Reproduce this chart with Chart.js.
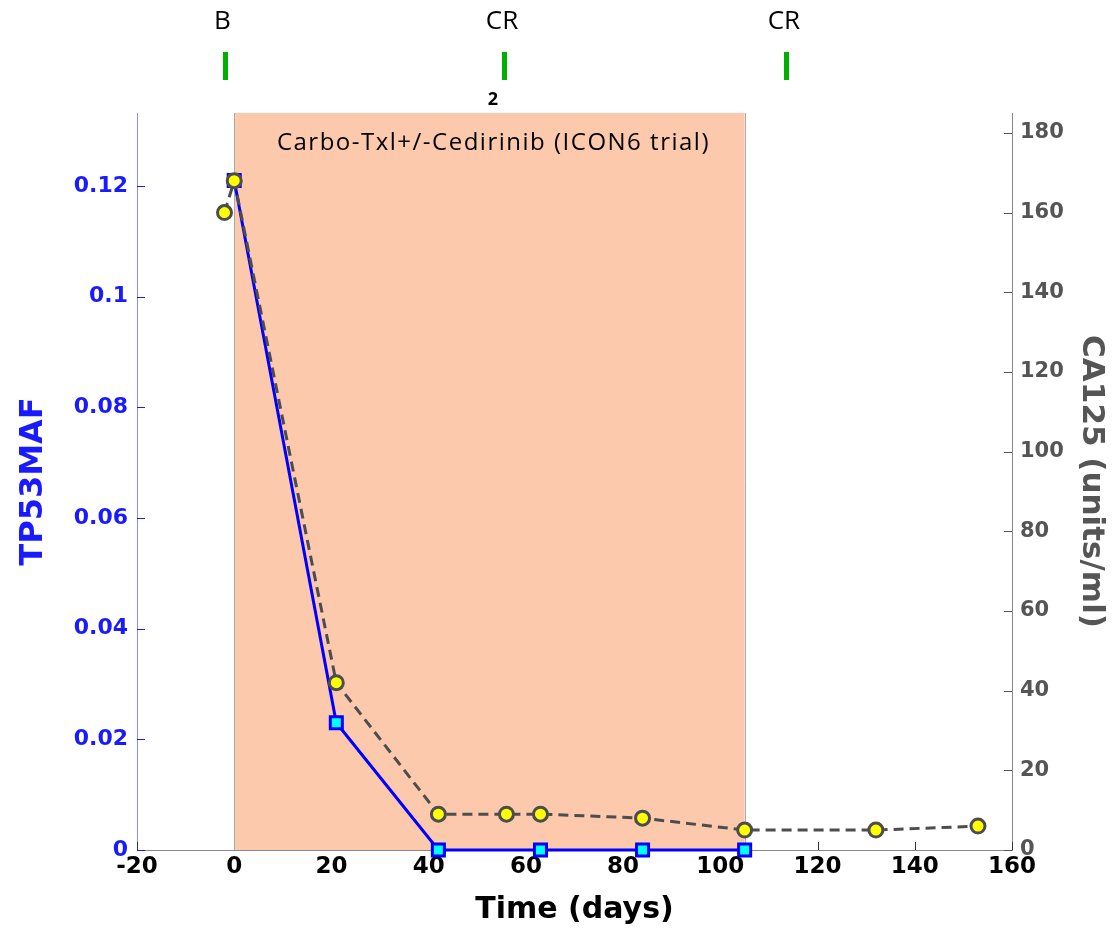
<!DOCTYPE html>
<html>
<head>
<meta charset="utf-8">
<script src="https://cdn.jsdelivr.net/npm/chart.js@4/dist/chart.umd.min.js"></script>
<style>
  html, body { margin: 0; padding: 0; background: #fff; }
  canvas { display: block; }
</style>
</head>
<body>
<canvas id="chart" width="1118" height="937"></canvas>
<script>
// Datos
const tp53Days = [0, 21, 42, 63, 84, 105];
const tp53Maf = [0.121, 0.023, 0, 0, 0, 0];

const ca125Days = [-2, 0, 21, 42, 56, 63, 84, 105, 132, 153];
const ca125Values = [160, 168, 42, 9, 9, 9, 8, 5, 5, 6];

const xTicks = [-20, 0, 20, 40, 60, 80, 100, 120, 140, 160];
const leftTicks = [0, 0.02, 0.04, 0.06, 0.08, 0.1, 0.12];
const rightTicks = [0, 20, 40, 60, 80, 100, 120, 140, 160, 180];

const treatmentWindow = [0, 105];
const treatmentLabel = "Carbo-Txl+/-Cedirinib (ICON6 trial)";

const responseDays = [-2, 55.5, 113.5];
const responseLabels = ["B", "CR", "CR"];

const BLUE = "#1a1aff";
const GREY = "#555555";
const FAMILY = "'DejaVu Sans', Verdana, sans-serif";
const NOTE_FONT = "24px 'Open Sans', 'Noto Sans', sans-serif";

// Sombreado del tratamiento + marcas de eje hacia dentro (estilo MATLAB)
const overlayPlugin = {
  id: "overlay",
  beforeDatasetsDraw(chart) {
    const { ctx, chartArea: a, scales } = chart;
    ctx.save();

    // ticks interiores
    ctx.lineWidth = 1;
    ctx.strokeStyle = "#333";
    xTicks.forEach((t) => {
      const px = Math.round(scales.x.getPixelForValue(t)) + 0.5;
      ctx.beginPath();
      ctx.moveTo(px, a.bottom);
      ctx.lineTo(px, a.bottom - 8);
      ctx.stroke();
    });
    ctx.strokeStyle = BLUE;
    leftTicks.forEach((t) => {
      const py = Math.round(scales.yL.getPixelForValue(t)) + 0.5;
      ctx.beginPath();
      ctx.moveTo(a.left, py);
      ctx.lineTo(a.left + 8, py);
      ctx.stroke();
    });
    ctx.strokeStyle = GREY;
    rightTicks.forEach((t) => {
      const py = Math.round(scales.yR.getPixelForValue(t)) + 0.5;
      ctx.beginPath();
      ctx.moveTo(a.right, py);
      ctx.lineTo(a.right - 8, py);
      ctx.stroke();
    });

    // banda de tratamiento
    const x0 = scales.x.getPixelForValue(treatmentWindow[0]);
    const x1 = scales.x.getPixelForValue(treatmentWindow[1]);
    ctx.fillStyle = "#fcc9ad";
    ctx.fillRect(x0, a.top, x1 - x0, a.bottom - a.top);
    ctx.strokeStyle = "#aaaaaa";
    ctx.lineWidth = 1;
    ctx.beginPath();
    ctx.moveTo(Math.round(x0) + 0.5, a.top);
    ctx.lineTo(Math.round(x0) + 0.5, a.bottom);
    ctx.moveTo(Math.round(x1) + 0.5, a.top);
    ctx.lineTo(Math.round(x1) + 0.5, a.bottom);
    ctx.stroke();

    ctx.fillStyle = "#000";
    ctx.font = NOTE_FONT;
    ctx.letterSpacing = "1.5px";
    ctx.textAlign = "center";
    ctx.textBaseline = "middle";
    ctx.fillText(treatmentLabel, (x0 + x1) / 2 + 4, a.top + 30);
    ctx.restore();
  },
  afterDraw(chart) {
    const { ctx, scales } = chart;
    ctx.save();
    ctx.font = "26px 'Open Sans', 'Noto Sans', sans-serif";
    ctx.textAlign = "center";
    ctx.textBaseline = "middle";
    responseDays.forEach((d, i) => {
      const px = scales.x.getPixelForValue(d);
      ctx.fillStyle = "#000";
      ctx.fillText(responseLabels[i], px - 2, 22);
      ctx.fillStyle = "#00b000";
      ctx.fillRect(Math.round(px) - 2, 52, 5, 28);
    });
    // subíndice bajo la segunda marca
    ctx.fillStyle = "#000";
    ctx.font = "bold 18px 'Open Sans', 'Noto Sans', sans-serif";
    ctx.fillText("2", scales.x.getPixelForValue(responseDays[1]) - 11, 100);
    ctx.restore();
  }
};

new Chart(document.getElementById("chart"), {
  type: "line",
  data: {
    datasets: [
      {
        label: "TP53MAF",
        yAxisID: "yL",
        data: tp53Days.map((d, i) => ({ x: d, y: tp53Maf[i] })),
        borderColor: "#0000ff",
        borderWidth: 3,
        pointStyle: "rect",
        pointRadius: 8.5,
        pointBorderWidth: 3,
        pointBackgroundColor: "#00ffff",
        pointBorderColor: "#0000ff",
        tension: 0,
        clip: false,
        order: 2,
      },
      {
        label: "CA125",
        yAxisID: "yR",
        data: ca125Days.map((d, i) => ({ x: d, y: ca125Values[i] })),
        borderColor: "#4d4d4d",
        borderWidth: 3,
        borderDash: [10, 6],
        pointStyle: "circle",
        pointRadius: 7,
        pointBorderWidth: 3,
        pointBackgroundColor: "#ffff00",
        pointBorderColor: "#4d4d4d",
        tension: 0,
        clip: false,
        order: 1,
      },
    ],
  },
  options: {
    responsive: false,
    animation: false,
    layout: { padding: { top: 113, left: 0, right: 0, bottom: 0 } },
    plugins: {
      legend: { display: false },
      tooltip: { enabled: false },
    },
    scales: {
      x: {
        type: "linear",
        min: -20,
        max: 160,
        afterFit: (s) => { s.height = 87; },
        afterBuildTicks: (s) => { s.ticks = xTicks.map((v) => ({ value: v })); },
        ticks: { color: "#000", font: { family: FAMILY, size: 23, weight: "bold" }, padding: 3, maxRotation: 0 },
        grid: { display: false, drawTicks: false },
        border: { display: true, color: "#888888", width: 1 },
        title: {
          display: true,
          text: "Time (days)",
          color: "#000",
          font: { family: FAMILY, size: 30, weight: "bold" },
          padding: { top: 0, bottom: 9 },
        },
      },
      yL: {
        type: "linear",
        position: "left",
        min: 0,
        max: 0.1332,
        afterFit: (s) => { s.width = 137; },
        afterBuildTicks: (s) => { s.ticks = leftTicks.map((v) => ({ value: v })); },
        ticks: {
          color: BLUE,
          font: { family: FAMILY, size: 22, weight: "bold" },
          padding: 9,
          callback: (v) => String(+v.toFixed(2)),
        },
        grid: { display: false, drawTicks: false },
        border: { display: true, color: "#8c8cff", width: 1 },
        title: {
          display: true,
          text: "TP53MAF",
          color: BLUE,
          font: { family: FAMILY, size: 32, weight: "bold" },
          padding: { top: 14, bottom: 0 },
        },
      },
      yR: {
        type: "linear",
        position: "right",
        min: 0,
        max: 185,
        afterFit: (s) => { s.width = 106; },
        afterBuildTicks: (s) => { s.ticks = rightTicks.map((v) => ({ value: v })); },
        ticks: { color: GREY, font: { family: FAMILY, size: 21, weight: "bold" }, padding: 8 },
        grid: { display: false, drawTicks: false },
        border: { display: true, color: "#888888", width: 1 },
        title: {
          display: true,
          text: "CA125 (units/ml)",
          color: GREY,
          font: { family: FAMILY, size: 31, weight: "bold" },
          padding: { top: 8, bottom: 0 },
        },
      },
    },
  },
  plugins: [overlayPlugin],
});
</script>
</body>
</html>
